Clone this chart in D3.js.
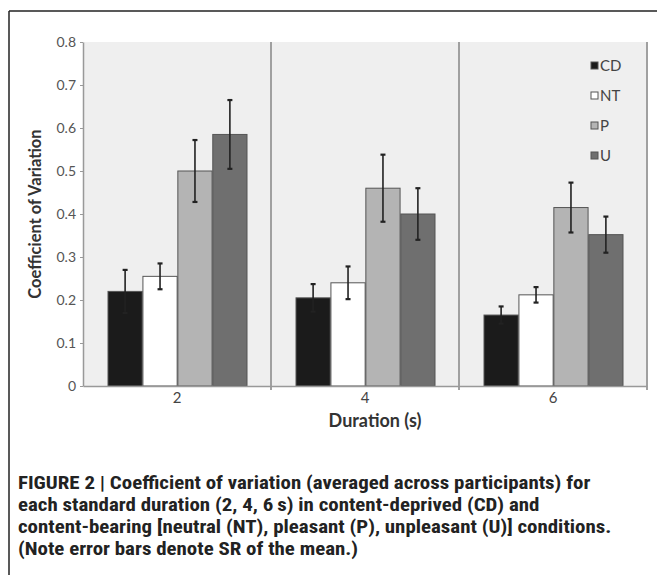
<!DOCTYPE html>
<html>
<head>
<meta charset="utf-8">
<script src="https://cdn.jsdelivr.net/npm/d3@7"></script>
<style>
  html, body { margin: 0; padding: 0; background: #fff; }
  svg { display: block; }
</style>
</head>
<body>
<svg id="chart" width="657" height="575"></svg>
<script>
// ---- data ----
const durations = ["2", "4", "6"];
const series = ["CD", "NT", "P", "U"];
const means = {
  CD: [0.220, 0.205, 0.165],
  NT: [0.255, 0.240, 0.212],
  P:  [0.500, 0.460, 0.415],
  U:  [0.585, 0.400, 0.352]
};
const errors = {
  CD: [0.050, 0.032, 0.020],
  NT: [0.030, 0.038, 0.018],
  P:  [0.072, 0.078, 0.058],
  U:  [0.080, 0.060, 0.042]
};
const yTicks = [0, 0.1, 0.2, 0.3, 0.4, 0.5, 0.6, 0.7, 0.8];
const yTickLabels = ["0", "0.1", "0.2", "0.3", "0.4", "0.5", "0.6", "0.7", "0.8"];
const captionLines = [
  "FIGURE 2 | Coefficient of variation (averaged across participants) for",
  "each standard duration (2, 4, 6\u2009s) in content-deprived (CD) and",
  "content-bearing [neutral (NT), pleasant (P), unpleasant (U)] conditions.",
  "(Note error bars denote SR of the mean.)"
];
const colors = { CD: "#1b1b1b", NT: "#ffffff", P: "#b4b4b4", U: "#6f6f6f" };

// ---- layout ----
const svg = d3.select("#chart");
const pLeft = 83, pRight = 647, pTop = 42, pBottom = 386;
const font = "Lato, 'Open Sans', sans-serif";

// outer frame
svg.append("line").attr("x1", 9).attr("x2", 657).attr("y1", 11).attr("y2", 11)
  .attr("stroke", "#222").attr("stroke-width", 1.5);
svg.append("line").attr("x1", 9).attr("x2", 9).attr("y1", 11).attr("y2", 575)
  .attr("stroke", "#222").attr("stroke-width", 1.5);

const x = d3.scaleBand().domain(durations).range([pLeft, pRight]);
const xi = d3.scaleBand().domain(series).range([25, x.bandwidth() - 24]).paddingInner(0.02);
const y = d3.scaleLinear().domain([0, 0.8]).range([pBottom, pTop]);

// plot background
svg.append("rect").attr("x", pLeft).attr("y", pTop)
  .attr("width", pRight - pLeft).attr("height", pBottom - pTop).attr("fill", "#efefef");

// dividers
durations.forEach(d => {
  svg.append("line")
    .attr("x1", x(d) + x.bandwidth()).attr("x2", x(d) + x.bandwidth())
    .attr("y1", pTop).attr("y2", pBottom + 4)
    .attr("stroke", "#a0a0a0").attr("stroke-width", 2);
});

// bars
const g = svg.append("g");
durations.forEach((d, i) => {
  series.forEach(s => {
    const bx = x(d) + xi(s);
    g.append("rect")
      .attr("x", bx).attr("y", y(means[s][i]))
      .attr("width", xi.bandwidth()).attr("height", y(0) - y(means[s][i]))
      .attr("fill", colors[s]).attr("stroke", "#555").attr("stroke-width", 1);
  });
});

// error bars
durations.forEach((d, i) => {
  series.forEach(s => {
    const cx = x(d) + xi(s) + xi.bandwidth() / 2;
    const hi = y(means[s][i] + errors[s][i]);
    const lo = y(means[s][i] - errors[s][i]);
    g.append("line").attr("x1", cx).attr("x2", cx).attr("y1", hi).attr("y2", lo)
      .attr("stroke", "#222").attr("stroke-width", 1.6);
    [hi, lo].forEach(yy => {
      g.append("line").attr("x1", cx - 2.5).attr("x2", cx + 2.5).attr("y1", yy).attr("y2", yy)
        .attr("stroke", "#222").attr("stroke-width", 2.2);
    });
  });
});

// y axis
const yAxis = d3.axisLeft(y).tickValues(yTicks)
  .tickFormat((v, i) => yTickLabels[i]).tickSize(3).tickSizeOuter(0);
const ya = svg.append("g").attr("transform", `translate(${pLeft},0)`).call(yAxis);
ya.select(".domain").attr("stroke", "#999").attr("stroke-width", 1.5);
ya.selectAll(".tick line").attr("stroke", "#999");
ya.selectAll(".tick text").attr("font-family", font).attr("font-size", 14)
  .attr("fill", "#555").attr("x", -7);

// x baseline + labels
const xAxis = d3.axisBottom(x).tickSize(0).tickSizeOuter(0);
const xa = svg.append("g").attr("transform", `translate(0,${pBottom})`).call(xAxis);
xa.select(".domain").attr("stroke", "#999").attr("stroke-width", 1.5);
xa.selectAll(".tick text").attr("font-family", font).attr("font-size", 15)
  .attr("fill", "#444").attr("dy", "0.71em").attr("y", 6);

// axis titles
svg.append("text").attr("x", 375).attr("y", 427)
  .attr("text-anchor", "middle").attr("font-family", font).attr("font-weight", "bold")
  .attr("font-size", 18).attr("fill", "#333").text("Duration (s)");
svg.append("text").attr("transform", `translate(41,${(pTop + pBottom) / 2}) rotate(-90)`)
  .attr("text-anchor", "middle").attr("font-family", font).attr("font-weight", "bold")
  .attr("font-size", 16.5).attr("fill", "#333").text("Coefficient of Variation");

// legend
const legend = svg.append("g").attr("transform", "translate(591,0)");
series.forEach((s, i) => {
  const ly = 66 + i * 30;
  legend.append("rect").attr("x", 0).attr("y", ly - 4).attr("width", 7).attr("height", 7)
    .attr("fill", colors[s]).attr("stroke", "#555").attr("stroke-width", 1);
  legend.append("text").attr("x", 9).attr("y", ly).attr("dy", "0.35em")
    .attr("font-family", font).attr("font-size", 15).attr("fill", "#444").text(s);
});

// caption
const cap = svg.append("g").attr("transform", "translate(18,0) scale(1.1,1)");
captionLines.forEach((t, i) => {
  cap.append("text").attr("x", 0).attr("y", 489 + i * 22)
    .attr("font-family", "'Liberation Sans Narrow', 'Arial Narrow', 'Roboto Condensed', sans-serif")
    .attr("font-stretch", "condensed")
    .attr("font-weight", "bold").attr("font-size", 19).attr("fill", "#222").text(t);
});
</script>
</body>
</html>
